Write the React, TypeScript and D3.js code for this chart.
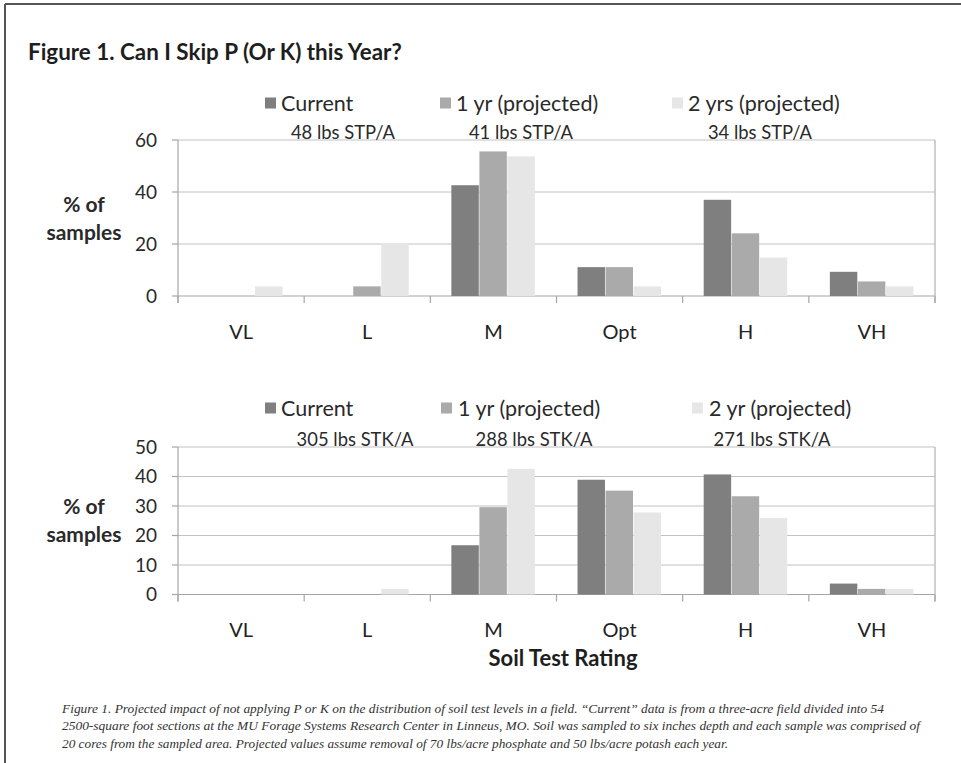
import React from "react";
import * as d3 from "d3";

const categories = ["VL", "L", "M", "Opt", "H", "VH"];

const pSeriesNames = ["Current", "1 yr (projected)", "2 yrs (projected)"];
const pCurrent = [0, 0, 42.6, 11.1, 37.0, 9.3];
const pOneYear = [0, 3.7, 55.6, 11.1, 24.1, 5.6];
const pTwoYears = [3.7, 20.4, 53.7, 3.7, 14.8, 3.7];
const pTicks = [0, 20, 40, 60];
const pNotes = ["48 lbs STP/A", "41 lbs STP/A", "34 lbs STP/A"];

const kSeriesNames = ["Current", "1 yr (projected)", "2 yr (projected)"];
const kCurrent = [0, 0, 16.7, 38.9, 40.7, 3.7];
const kOneYear = [0, 0, 29.6, 35.2, 33.3, 1.9];
const kTwoYears = [0, 1.9, 42.6, 27.8, 25.9, 1.9];
const kTicks = [0, 10, 20, 30, 40, 50];
const kNotes = ["305 lbs STK/A", "288 lbs STK/A", "271 lbs STK/A"];

const captionLines = [
  "Figure 1.  Projected impact of not applying P or K on the distribution of soil test levels in a field.  \u201cCurrent\u201d data is from a three-acre field divided into 54",
  "2500-square foot sections at the MU Forage Systems Research Center in Linneus, MO.  Soil was sampled to six inches depth and each sample was comprised of",
  "20 cores from the sampled area.  Projected values assume removal of 70 lbs/acre phosphate and 50 lbs/acre potash each year.",
];

const colors = ["#7f7f7f", "#aaaaaa", "#e6e6e6"];
const FONT = "Lato, 'Open Sans', sans-serif";

type PanelProps = {
  series: number[][];
  names: string[];
  ticks: number[];
  maxY: number;
  top: number;
  bottom: number;
  legendY: number;
  legendSquares: number[];
  legendTexts: number[];
  notes: string[];
  noteXs: number[];
  catLabelY: number;
};

const X0 = 178;
const X1 = 935;

function Panel(p: PanelProps) {
  const x0 = d3.scaleBand<string>().domain(categories).range([X0, X1]).padding(0);
  const x1 = d3
    .scaleBand<number>()
    .domain(p.series.map((_, i) => i))
    .range([0, x0.bandwidth()])
    .paddingInner(0)
    .paddingOuter(0.75);
  const y = d3.scaleLinear().domain([0, p.maxY]).range([p.bottom, p.top]);
  const bounds = categories.map((c) => x0(c) as number).concat([X1]);

  return (
    <g>
      {p.names.map((n, i) => (
        <g key={n}>
          <rect x={p.legendSquares[i]} y={p.legendY - 5.5} width={11} height={11} fill={colors[i]} />
          <text x={p.legendTexts[i]} y={p.legendY} dy="0.36em" fontSize={21.5} fill="#2a2a2a" fontFamily={FONT}>
            {n}
          </text>
        </g>
      ))}
      {p.ticks.map((t) => (
        <line key={t} x1={X0} x2={X1} y1={y(t)} y2={y(t)} stroke={t === 0 ? "#a6a6a6" : "#c2c2c2"} strokeWidth={1.2} />
      ))}
      <line x1={X1} x2={X1} y1={p.top} y2={p.bottom + 7} stroke="#b0b0b0" strokeWidth={1.2} />
      <line x1={X0} x2={X0} y1={p.top} y2={p.bottom + 7} stroke="#a6a6a6" strokeWidth={1.2} />
      {p.ticks.map((t) => (
        <g key={"t" + t}>
          <line x1={X0 - 6} x2={X0} y1={y(t)} y2={y(t)} stroke="#a6a6a6" strokeWidth={1.2} />
          <text x={157} y={y(t)} dy="0.36em" textAnchor="end" fontSize={19} fill="#2a2a2a" fontFamily={FONT}>
            {t}
          </text>
        </g>
      ))}
      {bounds.map((b, i) => (
        <line key={"b" + i} x1={b} x2={b} y1={p.bottom} y2={p.bottom + 7} stroke="#a6a6a6" strokeWidth={1.2} />
      ))}
      {p.series.map((s, si) =>
        s.map((v, ci) =>
          v > 0 ? (
            <rect
              key={si + "-" + ci}
              x={(x0(categories[ci]) as number) + (x1(si) as number)}
              y={y(v)}
              width={x1.bandwidth() - 0.6}
              height={y(0) - y(v)}
              fill={colors[si]}
            />
          ) : null
        )
      )}
      {categories.map((c) => (
        <text
          key={c}
          x={(x0(c) as number) + x0.bandwidth() / 2}
          y={p.catLabelY}
          dy="0.36em"
          textAnchor="middle"
          fontSize={20}
          fill="#222"
          fontFamily={FONT}
        >
          {c}
        </text>
      ))}
      {p.notes.map((n, i) => (
        <text key={n} x={p.noteXs[i]} y={p.top - 1} textAnchor="middle" fontSize={18.4} fill="#2a2a2a" fontFamily={FONT}>
          {n}
        </text>
      ))}
      <text x={84} y={(p.top + p.bottom) / 2 - 14} dy="0.36em" textAnchor="middle" fontSize={21} fontWeight="bold" fill="#2a2a2a" fontFamily={FONT}>
        % of
      </text>
      <text x={84} y={(p.top + p.bottom) / 2 + 14} dy="0.36em" textAnchor="middle" fontSize={21} fontWeight="bold" fill="#2a2a2a" fontFamily={FONT}>
        samples
      </text>
    </g>
  );
}

export default function App() {
  const W = 961;
  const H = 763;
  const captionXs = [62, 62, 62];
  const captionWidths = [822, 858, 666];
  const captionYs = [708, 725, 743];
  return (
    <svg
      width={W}
      height={H}
      viewBox={`0 0 ${W} ${H}`}
      style={{ position: "absolute", left: 0, top: 0, background: "#fff" }}
    >
      <rect x={0} y={0} width={W} height={H} fill="#fff" />
      <line x1={5} x2={W} y1={4} y2={4} stroke="#555" strokeWidth={2} />
      <line x1={5} x2={5} y1={4} y2={H} stroke="#555" strokeWidth={2} />
      <text x={28} y={52} dy="0.36em" fontSize={22.4} fontWeight="bold" fill="#1e1e1e" fontFamily={FONT}>
        Figure 1. Can I Skip P (Or K) this Year?
      </text>
      <Panel
        series={[pCurrent, pOneYear, pTwoYears]}
        names={pSeriesNames}
        ticks={pTicks}
        maxY={60}
        top={140}
        bottom={296}
        legendY={103}
        legendSquares={[265, 440, 672]}
        legendTexts={[281, 456, 688]}
        notes={pNotes}
        noteXs={[343, 521, 760]}
        catLabelY={332}
      />
      <Panel
        series={[kCurrent, kOneYear, kTwoYears]}
        names={kSeriesNames}
        ticks={kTicks}
        maxY={50}
        top={447}
        bottom={594.5}
        legendY={408}
        legendSquares={[265, 441, 692]}
        legendTexts={[281, 458, 709]}
        notes={kNotes}
        noteXs={[355, 534, 772]}
        catLabelY={630}
      />
      <text x={563} y={658} dy="0.36em" textAnchor="middle" fontSize={22} fontWeight="bold" fill="#1e1e1e" fontFamily={FONT}>
        Soil Test Rating
      </text>
      {captionLines.map((l, i) => (
        <text
          key={i}
          x={captionXs[i]}
          y={captionYs[i]}
          dy="0.36em"
          fontSize={13}
          fontStyle="italic"
          fill="#333"
          fontFamily="'Liberation Serif', 'DejaVu Serif', serif"
          textLength={captionWidths[i]}
          lengthAdjust="spacingAndGlyphs"
        >
          {l}
        </text>
      ))}
    </svg>
  );
}
